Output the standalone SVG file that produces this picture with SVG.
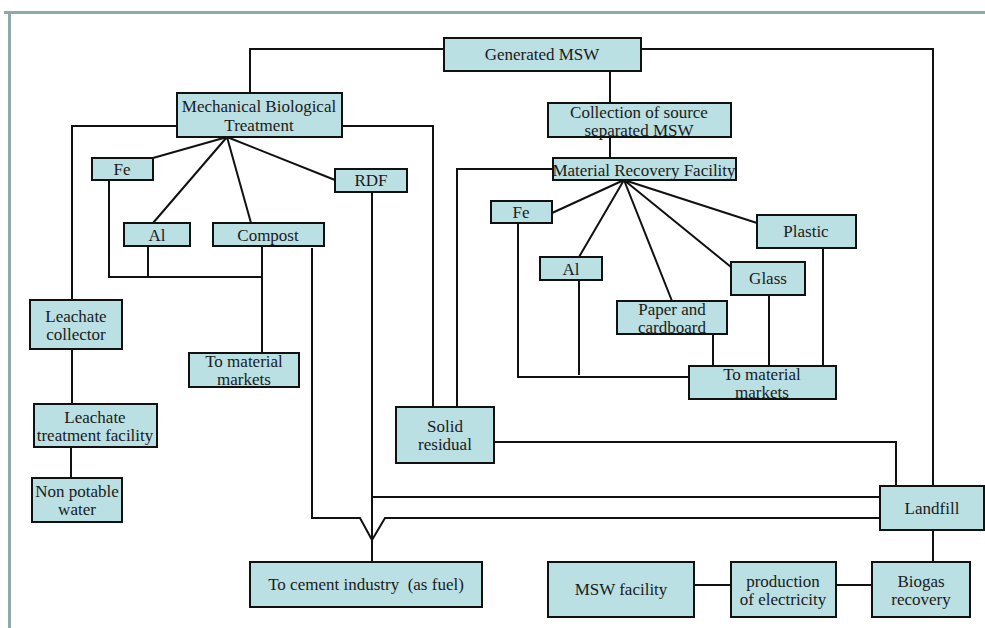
<svg xmlns="http://www.w3.org/2000/svg" width="985" height="628" viewBox="0 0 985 628">
<style>
.b{fill:#bae0e3;stroke:#111;stroke-width:2}
.t{font-family:"Liberation Serif","Times New Roman",serif;font-size:17px;fill:#1a1a1a;text-anchor:middle}
.c{fill:none;stroke:#111;stroke-width:2}
</style>
<rect width="985" height="628" fill="#fff"/>
<rect x="4" y="11" width="981" height="3" fill="#8ea9ab"/>
<rect x="8" y="11" width="3" height="617" fill="#8ea9ab"/>
<g id="connectors">
<path class="c" d="M444,49H250V93"/>
<path class="c" d="M641,49H933V486"/>
<path class="c" d="M610,71V103"/>
<path class="c" d="M610,137V158"/>
<path class="c" d="M177,126H72V300"/>
<path class="c" d="M342,126H433V407"/>
<path class="c" d="M553,169H457V407"/>
<path class="c" d="M227,137L153,158M227,137L153,223M227,137L251,223M227,137L335,180"/>
<path class="c" d="M109,180V277H262M148,246V277M262,246V353"/>
<path class="c" d="M72,349V404M71,447V478"/>
<path class="c" d="M312,248V518H360L372,540L385,518H880"/>
<path class="c" d="M372,192V562M372,497H880"/>
<path class="c" d="M494,442H896V486"/>
<path class="c" d="M624,180L552,213M624,180L579,257M624,180L672,301M624,180L731,267M624,180L757,223"/>
<path class="c" d="M518,223V377H689M579,280V375M713,334V366M769,295V366M823,248V366"/>
<path class="c" d="M933,530V562M694,585H731M836,585H872"/>
</g>
<g id="generated-msw"><rect class="b" x="444" y="38" width="197" height="33"/><text class="t" x="542" y="60">Generated MSW</text></g>
<g id="mbt"><rect class="b" x="177" y="93" width="165" height="44"/><text class="t" x="259" y="112">Mechanical Biological</text><text class="t" x="259" y="131">Treatment</text></g>
<g id="collection"><rect class="b" x="548" y="103" width="183" height="34"/><text class="t" x="639" y="118">Collection of source</text><text class="t" x="639" y="136">separated MSW</text></g>
<g id="mrf"><rect class="b" x="553" y="158" width="183" height="22"/><text class="t" x="644" y="176">Material Recovery Facility</text></g>
<g id="fe-left"><rect class="b" x="92" y="158" width="61" height="22"/><text class="t" x="122" y="175">Fe</text></g>
<g id="al-left"><rect class="b" x="124" y="223" width="66" height="23"/><text class="t" x="157" y="241">Al</text></g>
<g id="compost"><rect class="b" x="213" y="223" width="111" height="23"/><text class="t" x="268" y="241">Compost</text></g>
<g id="rdf"><rect class="b" x="335" y="169" width="72" height="23"/><text class="t" x="371" y="186">RDF</text></g>
<g id="leachate-collector"><rect class="b" x="30" y="300" width="92" height="49"/><text class="t" x="76" y="322">Leachate</text><text class="t" x="76" y="340">collector</text></g>
<g id="markets-left"><rect class="b" x="189" y="353" width="110" height="34"/><text class="t" x="244" y="367">To material</text><text class="t" x="244" y="385">markets</text></g>
<g id="leachate-treatment"><rect class="b" x="34" y="404" width="123" height="43"/><text class="t" x="95" y="423">Leachate</text><text class="t" x="95" y="441">treatment facility</text></g>
<g id="non-potable"><rect class="b" x="32" y="478" width="90" height="44"/><text class="t" x="77" y="497">Non potable</text><text class="t" x="77" y="515">water</text></g>
<g id="solid-residual"><rect class="b" x="396" y="407" width="98" height="56"/><text class="t" x="445" y="432">Solid</text><text class="t" x="445" y="450">residual</text></g>
<g id="cement"><rect class="b" x="250" y="562" width="232" height="45"/><text class="t" x="366" y="590" xml:space="preserve">To cement industry  (as fuel)</text></g>
<g id="fe-right"><rect class="b" x="491" y="201" width="61" height="22"/><text class="t" x="521" y="218">Fe</text></g>
<g id="al-right"><rect class="b" x="540" y="257" width="62" height="23"/><text class="t" x="571" y="275">Al</text></g>
<g id="paper"><rect class="b" x="617" y="301" width="110" height="33"/><text class="t" x="672" y="315">Paper and</text><text class="t" x="672" y="333">cardboard</text></g>
<g id="glass"><rect class="b" x="731" y="262" width="74" height="33"/><text class="t" x="768" y="284">Glass</text></g>
<g id="plastic"><rect class="b" x="757" y="215" width="99" height="33"/><text class="t" x="806" y="237">Plastic</text></g>
<g id="markets-right"><rect class="b" x="689" y="366" width="147" height="33"/><text class="t" x="762" y="380">To material</text><text class="t" x="762" y="398">markets</text></g>
<g id="landfill"><rect class="b" x="880" y="486" width="104" height="44"/><text class="t" x="932" y="514">Landfill</text></g>
<g id="msw-facility"><rect class="b" x="548" y="562" width="146" height="55"/><text class="t" x="621" y="595">MSW facility</text></g>
<g id="electricity"><rect class="b" x="731" y="562" width="105" height="55"/><text class="t" x="783" y="587">production</text><text class="t" x="783" y="605">of electricity</text></g>
<g id="biogas"><rect class="b" x="872" y="562" width="98" height="55"/><text class="t" x="921" y="587">Biogas</text><text class="t" x="921" y="605">recovery</text></g>
</svg>
